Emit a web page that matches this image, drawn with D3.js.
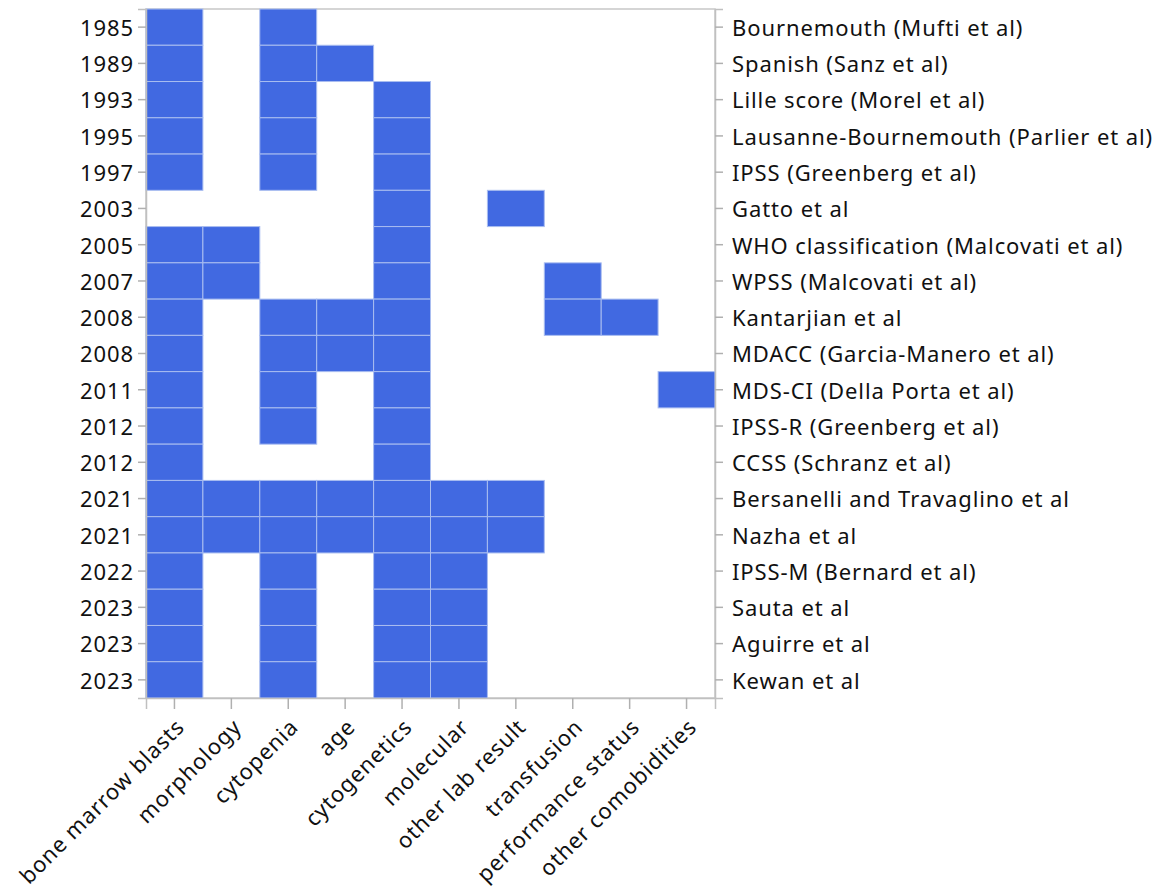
<!DOCTYPE html>
<html><head><meta charset="utf-8">
<script src="https://cdn.jsdelivr.net/npm/d3@7"></script>
<style>body{margin:0;background:#fff}</style>
</head><body><svg id="c" width="1158" height="894"></svg>
<script>
const categories = ["bone marrow blasts","morphology","cytopenia","age","cytogenetics","molecular","other lab result","transfusion","performance status","other comobidities"];
const years = ["1985","1989","1993","1995","1997","2003","2005","2007","2008","2008","2011","2012","2012","2021","2021","2022","2023","2023","2023"];
const scores = ["Bournemouth (Mufti et al)","Spanish (Sanz et al)","Lille score (Morel et al)","Lausanne-Bournemouth (Parlier et al)","IPSS (Greenberg et al)","Gatto et al","WHO classification (Malcovati et al)","WPSS (Malcovati et al)","Kantarjian et al","MDACC (Garcia-Manero et al)","MDS-CI (Della Porta et al)","IPSS-R (Greenberg et al)","CCSS (Schranz et al)","Bersanelli and Travaglino et al","Nazha et al","IPSS-M (Bernard et al)","Sauta et al","Aguirre et al","Kewan et al"];
// 1 = variable included in score (row order = scores; column order = categories)
const included = [
 [1,0,1,0,0,0,0,0,0,0],
 [1,0,1,1,0,0,0,0,0,0],
 [1,0,1,0,1,0,0,0,0,0],
 [1,0,1,0,1,0,0,0,0,0],
 [1,0,1,0,1,0,0,0,0,0],
 [0,0,0,0,1,0,1,0,0,0],
 [1,1,0,0,1,0,0,0,0,0],
 [1,1,0,0,1,0,0,1,0,0],
 [1,0,1,1,1,0,0,1,1,0],
 [1,0,1,1,1,0,0,0,0,0],
 [1,0,1,0,1,0,0,0,0,1],
 [1,0,1,0,1,0,0,0,0,0],
 [1,0,0,0,1,0,0,0,0,0],
 [1,1,1,1,1,1,1,0,0,0],
 [1,1,1,1,1,1,1,0,0,0],
 [1,0,1,0,1,1,0,0,0,0],
 [1,0,1,0,1,1,0,0,0,0],
 [1,0,1,0,1,1,0,0,0,0],
 [1,0,1,0,1,1,0,0,0,0]
];
const L=146, R=715, T=9, B=698;
const svg=d3.select("#c");
const font='"Segoe UI","Noto Sans","Open Sans",sans-serif';
const rows=d3.range(years.length);
const x=d3.scaleBand().domain(categories).range([L,R]);
const y=d3.scaleBand().domain(rows).range([T,B]);
const cells=[];
included.forEach((r,i)=>r.forEach((v,j)=>{if(v)cells.push({i,j});}));
svg.append("rect").attr("x",L).attr("y",T).attr("width",R-L).attr("height",B-T).attr("fill","none").attr("stroke","#c8c8c8").attr("stroke-width",1.5);
svg.selectAll("rect.cell").data(cells).join("rect").attr("class","cell")
 .attr("x",d=>x(categories[d.j])).attr("y",d=>y(d.i))
 .attr("width",x.bandwidth()).attr("height",y.bandwidth())
 .attr("fill","#4169E1").attr("stroke","#a9bdf0").attr("stroke-width",1);
function style(g){
 g.select(".domain").attr("stroke","#c0c0c0").attr("stroke-width",1.5);
 g.selectAll(".tick line").attr("stroke","#b0b0b0").attr("stroke-width",1.5);
 g.selectAll("text").attr("font-family",font).attr("font-size",22).attr("letter-spacing","0.9px").attr("fill","#111");
}
const gl=svg.append("g").attr("transform",`translate(${L},0)`)
 .call(d3.axisLeft(y).tickFormat(i=>years[i]).tickSize(8).tickPadding(4)).call(style);
const gr=svg.append("g").attr("transform",`translate(${R},0)`)
 .call(d3.axisRight(y).tickFormat(i=>scores[i]).tickSize(8).tickPadding(9)).call(style);
gl.selectAll(".tick text").attr("dy","0.4em");
gr.selectAll(".tick text").attr("dy","0.4em");
const gx=svg.append("g").attr("transform",`translate(0,${B})`)
 .call(d3.axisBottom(x).tickSize(11).tickPadding(4)).call(style);
gx.selectAll(".tick text").attr("text-anchor","end").attr("dy","0.35em")
 .attr("transform","translate(6,25) rotate(-45)").attr("y",0).attr("x",0);
</script></body></html>
